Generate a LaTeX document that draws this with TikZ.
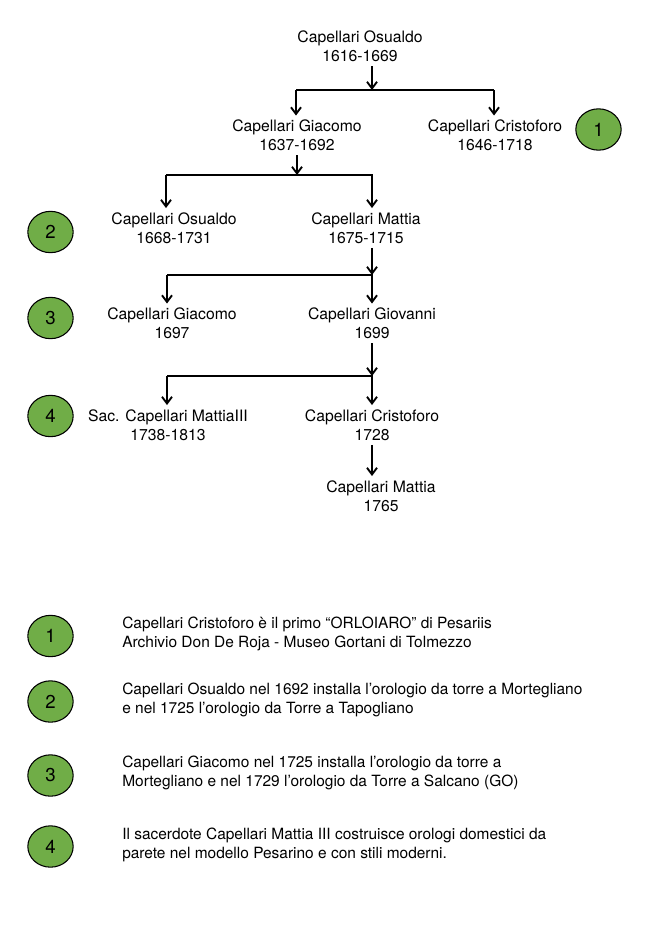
\documentclass[tikz,border=0pt]{standalone}
\usepackage{fontspec}
\setmainfont{TeX Gyre Heros}
\usetikzlibrary{arrows.meta,shapes.geometric}
\definecolor{verde}{HTML}{70AD47}
\begin{document}
\begin{tikzpicture}[x=0.75pt,y=-0.75pt,
    persona/.style={align=center,inner sep=3pt,font=\fontsize{11.8}{14.6}\selectfont},
    nota/.style={align=left,anchor=west,inner sep=0pt,font=\fontsize{11.6}{14.6}\selectfont},
    numero/.style={ellipse,draw=black,line width=0.8pt,fill=verde,minimum width=34pt,minimum height=31pt,inner sep=0pt,font=\fontsize{14}{16}\selectfont},
    freccia/.style={line width=1.4pt,-{Straight Barb[length=5pt,width=7.5pt,line width=1.4pt]}},
    barra/.style={line width=1.4pt}]
        \useasboundingbox (0,0) rectangle (666,949);

        %%%%%%%%% Persone %%%%%%%%%
        \node[persona] (osualdoA) at (360,46.5) {Capellari Osualdo\\1616-1669};
        \node[persona] (giacomoA) at (297,135.5) {Capellari Giacomo\\1637-1692};
        \node[persona] (cristoforoA) at (495,135.5) {Capellari Cristoforo\\1646-1718};
        \node[persona] (osualdoB) at (174,228) {Capellari Osualdo\\1668-1731};
        \node[persona] (mattiaA) at (366,228) {Capellari Mattia\\1675-1715};
        \node[persona] (giacomoB) at (172,323.5) {Capellari Giacomo\\1697};
        \node[persona] (giovanni) at (372,323.5) {Capellari Giovanni\\1699};
        \node[persona] (mattiaIII) at (168,425) {Sac. Capellari MattiaIII\\1738-1813};
        \node[persona] (cristoforoB) at (372,425) {Capellari Cristoforo\\1728};
        \node[persona] (mattiaB) at (381,496) {Capellari Mattia\\1765};

        %%%%%%%%% Numeri %%%%%%%%%
        \node[numero] (numA) at (598.5,129.5) {1};
        \node[numero] (numB) at (50.5,232) {2};
        \node[numero] (numC) at (50.5,318) {3};
        \node[numero] (numD) at (50.5,416) {4};

        %%%%%%%%% Barre %%%%%%%%%%
        \coordinate (barraA) at (372,90);
        \coordinate (barraAsx) at (296,90);
        \coordinate (barraAdx) at (494,90);
        \coordinate (barraB) at (297,175);
        \coordinate (barraBsx) at (166,175);
        \coordinate (barraBdx) at (373,175);
        \coordinate (barraCsx) at (167,275);
        \coordinate (barraCdx) at (373,275);
        \coordinate (barraDsx) at (167,376);
        \coordinate (barraDdx) at (373,376);

        \draw[barra] (barraAsx) -- (barraAdx);
        \draw[barra] (barraBsx) -- (barraBdx);
        \draw[barra] (barraCsx) -- (barraCdx);
        \draw[barra] (barraDsx) -- (barraDdx);

        %%%%%%%%% Frecce %%%%%%%%%
        \draw[freccia] (barraA |- osualdoA.south) -- (barraA);
        \draw[freccia] (barraAsx) -- (barraAsx |- giacomoA.north);
        \draw[freccia] (barraAdx) -- (barraAdx |- cristoforoA.north);
        \draw[freccia] (barraB |- giacomoA.south) -- (barraB);
        \draw[freccia] (barraBsx) -- (barraBsx |- osualdoB.north);
        \draw[freccia] ([xshift=-0.75pt]barraBdx) -- ([xshift=-0.75pt]barraBdx |- mattiaA.north);
        \draw[freccia] ([xshift=-0.75pt]barraCdx |- mattiaA.south) -- ([xshift=-0.75pt]barraCdx);
        \draw[freccia] (barraCsx) -- (barraCsx |- giacomoB.north);
        \draw[freccia] ([xshift=-0.75pt]barraCdx) -- ([xshift=-0.75pt]barraCdx |- giovanni.north);
        \draw[freccia] ([xshift=-0.75pt]barraDdx |- giovanni.south) -- ([xshift=-0.75pt]barraDdx);
        \draw[freccia] (barraDsx) -- (barraDsx |- mattiaIII.north);
        \draw[freccia] ([xshift=-0.75pt]barraDdx) -- ([xshift=-0.75pt]barraDdx |- cristoforoB.north);
        \draw[freccia] (cristoforoB.south) -- (cristoforoB.south |- mattiaB.north);

        %%%%%%%%% Legenda %%%%%%%%%
        \foreach \n/\y in {1/636,2/701.5,3/775.5,4/846.5}
            \node[numero] (leg\n) at (50.5,\y) {\n};
        \node[nota] (notaA) at (122,634) {Capellari Cristoforo è il primo “ORLOIARO” di Pesariis\\Archivio Don De Roja - Museo Gortani di Tolmezzo};
        \node[nota] (notaB) at (122,700) {Capellari Osualdo nel 1692 installa l’orologio da torre a Mortegliano\\e nel 1725 l’orologio da Torre a Tapogliano};
        \node[nota] (notaC) at (122,773) {Capellari Giacomo nel 1725 installa l’orologio da torre a\\Mortegliano e nel 1729 l’orologio da Torre a Salcano (GO)};
        \node[nota] (notaD) at (122,845) {Il sacerdote Capellari Mattia III costruisce orologi domestici da\\parete nel modello Pesarino e con stili moderni.};
    \end{tikzpicture}
\end{document}
